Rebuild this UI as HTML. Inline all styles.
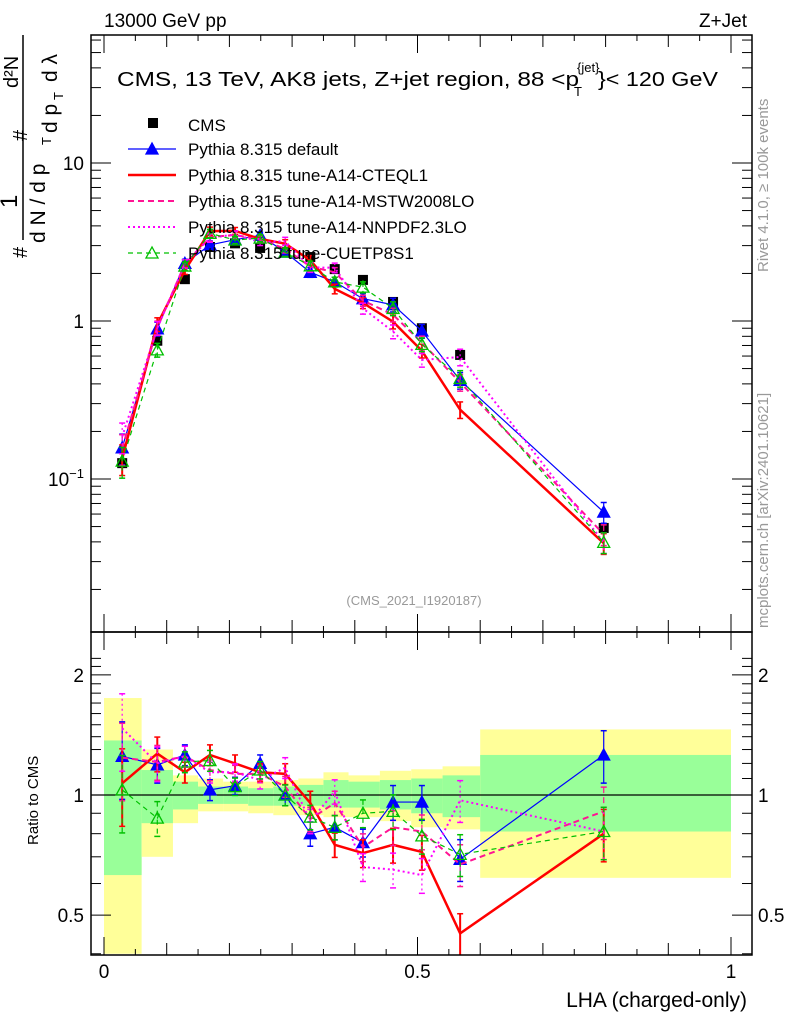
<!DOCTYPE html>
<html><head><meta charset="utf-8"><style>
body{margin:0;background:#fff}
svg{display:block;font-family:"Liberation Sans",sans-serif}
</style></head><body>
<svg id="c" width="786" height="1024" viewBox="0 0 786 1024">
</svg>
<script>
const edges=[0,0.06,0.11,0.15,0.19,0.23,0.27,0.31,0.35,0.39,0.44,0.49,0.54,0.60,1.0];
const xs=[0.029,0.085,0.129,0.169,0.209,0.249,0.289,0.329,0.368,0.413,0.461,0.507,0.568,0.797];
const cms=[0.126,0.75,1.84,2.94,3.1,2.9,2.73,2.54,2.13,1.82,1.32,0.90,0.61,0.049];
const cmsErr=[0.03,0.03,0.03,0.03,0.03,0.03,0.03,0.03,0.04,0.04,0.05,0.05,0.06,0.08];
const rDefault=[1.25,1.19,1.26,1.03,1.055,1.20,1.0,0.80,0.83,0.76,0.96,0.96,0.69,1.26];
const rCteq=[1.07,1.27,1.14,1.26,1.20,1.14,1.13,0.955,0.75,0.715,0.75,0.72,0.45,0.80];
const rMstw=[1.24,1.21,1.25,1.155,1.13,1.13,1.05,0.87,0.955,0.74,0.83,0.81,0.67,0.91];
const rNnpdf=[1.47,1.2,1.25,1.14,1.14,1.09,1.17,0.86,1.02,0.66,0.65,0.63,0.97,0.81];
const rCuetp=[1.03,0.875,1.21,1.22,1.05,1.155,1.0,0.88,0.83,0.90,0.91,0.79,0.71,0.81];
const mcErr=[0.22,0.1,0.06,0.06,0.05,0.05,0.06,0.07,0.07,0.08,0.1,0.1,0.12,0.15];
const yelHi=[1.75,1.30,1.12,1.10,1.08,1.08,1.09,1.10,1.14,1.12,1.15,1.16,1.18,1.46];
const yelLo=[0.40,0.70,0.85,0.91,0.91,0.90,0.89,0.89,0.88,0.88,0.86,0.83,0.82,0.62];
const grnHi=[1.37,1.155,1.08,1.05,1.05,1.04,1.05,1.06,1.09,1.08,1.09,1.10,1.12,1.26];
const grnLo=[0.63,0.85,0.92,0.95,0.95,0.94,0.94,0.94,0.93,0.93,0.92,0.90,0.88,0.81];
const xTicks=[0,0.5,1];
const yTicksMain=[0.1,1,10];
const yTicksRatio=[0.5,1,2];

const S=document.getElementById('c');
const NS='http://www.w3.org/2000/svg';
function mk(tag,at,parent){const e=document.createElementNS(NS,tag);for(const k in at)e.setAttribute(k,at[k]);(parent||S).appendChild(e);return e;}
const L=91,R=752,T=35,MB=632,RB=955;
const X=v=>104+627*v;
const YM=v=>321-158*Math.log10(v);
const YR=v=>795-399*Math.log10(v);

const bands=mk('g',{});


const clipR=mk('clipPath',{id:'cr'});mk('rect',{x:L,y:MB,width:R-L,height:RB-MB},clipR);
const clipM=mk('clipPath',{id:'cm'});mk('rect',{x:L,y:T,width:R-L,height:MB-T},clipM);
bands.setAttribute('clip-path','url(#cr)');
for(let i=0;i<xs.length;i++){
  const x0=X(edges[i]),x1=X(edges[i+1]);
  const y=mk('rect',{x:x0,y:YR(yelHi[i]),width:x1-x0,height:YR(yelLo[i])-YR(yelHi[i]),fill:'#ffff99'},bands);
  
  
  const g=mk('rect',{x:x0,y:YR(grnHi[i]),width:x1-x0,height:YR(grnLo[i])-YR(grnHi[i]),fill:'#99ff99'},bands);
  
  
}
mk('line',{x1:L,x2:R,y1:YR(1),y2:YR(1),stroke:'#000','stroke-width':1.2});

const series=[
 {name:'pythia-default',r:rDefault,col:'#0000ff',w:1.2,dash:'',mark:'tri'},
 {name:'pythia-a14-cteql1',r:rCteq,col:'#ff0000',w:2.5,dash:'',mark:''},
 {name:'pythia-a14-mstw2008lo',r:rMstw,col:'#ff1493',w:2,dash:'6,4',mark:''},
 {name:'pythia-a14-nnpdf23lo',r:rNnpdf,col:'#ff00ff',w:2,dash:'2,3',mark:''},
 {name:'pythia-cuetp8s1',r:rCuetp,col:'#00c000',w:1.2,dash:'5,4',mark:'otri'}];

function tri(g,x,y,col,open){return mk('polygon',{points:`${x},${y-6} ${x-6},${y+5} ${x+6},${y+5}`,fill:open?'none':col,stroke:col,'stroke-width':1.3},g);}

function drawSeries(s,panel){
  const g=mk('g',{'clip-path':panel?'url(#cr)':'url(#cm)'});
  
  
  const Yf=panel?YR:YM;
  const vals=s.r.map((r,i)=>panel?r:r*cms[i]);
  const pts=vals.map((v,i)=>X(xs[i])+','+Yf(v)).join(' ');
  mk('polyline',{points:pts,fill:'none',stroke:s.col,'stroke-width':s.w,'stroke-dasharray':s.dash},g);
  vals.forEach((v,i)=>{
    const x=X(xs[i]),e=mcErr[i];
    mk('line',{x1:x,x2:x,y1:Yf(v*(1+e)),y2:Yf(v*(1-e)),stroke:s.col,'stroke-width':s.w>2?2:1.2,'stroke-dasharray':s.dash},g);
    mk('line',{x1:x-3,x2:x+3,y1:Yf(v*(1+e)),y2:Yf(v*(1+e)),stroke:s.col,'stroke-width':1.5},g);
    mk('line',{x1:x-3,x2:x+3,y1:Yf(v*(1-e)),y2:Yf(v*(1-e)),stroke:s.col,'stroke-width':1.5},g);
    if(s.mark){const m=tri(g,x,Yf(v),s.col,s.mark==='otri');}
  });
}
const cg=mk('g',{});


cms.forEach((v,i)=>{
  const x=X(xs[i]);
  mk('line',{x1:x,x2:x,y1:YM(v*(1+cmsErr[i])),y2:YM(v*(1-cmsErr[i])),stroke:'#000'},cg);
  const r=mk('rect',{x:x-5,y:YM(v)-5,width:10,height:10,fill:'#000'},cg);
  
  
});
series.forEach(s=>{drawSeries(s,false);drawSeries(s,true);});

mk('rect',{x:L,y:T,width:R-L,height:MB-T,fill:'none',stroke:'#000','stroke-width':1.5});
mk('rect',{x:L,y:MB,width:R-L,height:RB-MB,fill:'none',stroke:'#000','stroke-width':1.5});

const ax=mk('g',{stroke:'#000','stroke-width':1});


for(let k=0;k<=20;k++){const v=k*0.05,x=X(v);const len=(k%10===0)?18:(k%2===0?12:6);
  [[MB,-1],[T,1],[RB,-1],[MB,1]].forEach(([y0,d])=>mk('line',{x1:x,x2:x,y1:y0,y2:y0+d*len},ax));}
xTicks.forEach(v=>{const t=mk('text',{x:X(v),y:978,'font-size':19,'text-anchor':'middle'});t.textContent=String(v);
  });
for(let d=-2;d<=1;d++)for(let m=1;m<=9;m++){const v=m*Math.pow(10,d);const y=YM(v);if(y<T||y>MB)continue;
  const len=m===1?20:10;mk('line',{x1:L,x2:L+len,y1:y,y2:y},ax);mk('line',{x1:R,x2:R-len,y1:y,y2:y},ax);}
yTicksMain.forEach(v=>{const t=mk('text',{x:84,y:YM(v)+7,'font-size':19,'text-anchor':'end'});
  if(v===0.1){t.textContent='10';const ts=mk('tspan',{dy:-8,'font-size':13},t);ts.textContent='−1';}else t.textContent=String(v);
  });
for(let k=4;k<=22;k++){const v=k/10;const y=YR(v);if(y<MB||y>RB)continue;const len=(v===0.5||v===1||v===2)?20:10;
  mk('line',{x1:L,x2:L+len,y1:y,y2:y},ax);mk('line',{x1:R,x2:R-len,y1:y,y2:y},ax);}
yTicksRatio.forEach(v=>{[[84,'end'],[758,'start']].forEach(([x,a])=>{const t=mk('text',{x:x,y:YR(v)+7,'font-size':19,'text-anchor':a});t.textContent=String(v);
  });});

function txt(x,y,s,size,name,extra){const t=mk('text',Object.assign({x:x,y:y,'font-size':size},extra||{}));t.textContent=s;return t;}
txt(104,27,'13000 GeV pp',19,'beam-label');
txt(747,27,'Z+Jet',19,'process-label',{'text-anchor':'end'});
txt(117,86,'CMS, 13 TeV, AK8 jets, Z+jet region, 88 <p',20,'plot-title',{textLength:462,lengthAdjust:'spacingAndGlyphs'});
txt(577,72,'{jet}',13,'title-superscript');
txt(574,96,'T',13,'title-subscript');
txt(598,86,'}< 120 GeV',20,'plot-title-end',{textLength:120,lengthAdjust:'spacingAndGlyphs'});
txt(414,605,'(CMS_2021_I1920187)',13,'analysis-id',{fill:'#999','text-anchor':'middle'});
txt(747,1007,'LHA (charged-only)',21,'x-axis-title',{'text-anchor':'end'});
txt(0,0,'Ratio to CMS',15,'ratio-y-title',{transform:'translate(38,845) rotate(-90)'});
txt(0,0,'Rivet 4.1.0, ≥ 100k events',15,'rivet-label',{transform:'translate(768,272) rotate(-90)',fill:'#999'});
txt(0,0,'mcplots.cern.ch [arXiv:2401.10621]',15,'mcplots-label',{transform:'translate(768,628) rotate(-90)',fill:'#999'});

const yt=mk('g',{});
mk('line',{x1:23,x2:23,y1:240,y2:35,stroke:'#000','stroke-width':1.5},yt);
[['#',27,258,20],['1',17,208,24],['d N / d p',45,243,21],['#',27,141,20],['d²N',18,88,20],['d p',57,133,21],['d λ',57,82,21]].forEach(([s,x,y,f])=>{
  const t=mk('text',{transform:`translate(${x},${y}) rotate(-90)`,'font-size':f},yt);t.textContent=s;});
mk('text',{transform:'translate(51,145) rotate(-90)','font-size':13},yt).textContent='T';
mk('text',{transform:'translate(63,100) rotate(-90)','font-size':13},yt).textContent='T';
mk('line',{x1:23,x2:23,y1:130,y2:35,stroke:'#000','stroke-width':1},yt);

const lg=mk('g',{});
const labels=['Pythia 8.315 default','Pythia 8.315 tune-A14-CTEQL1','Pythia 8.315 tune-A14-MSTW2008LO','Pythia 8.315 tune-A14-NNPDF2.3LO','Pythia 8.315 tune-CUETP8S1'];
mk('rect',{x:148,y:118,width:10,height:10,fill:'#000'},lg);
mk('text',{x:188,y:131,'font-size':17},lg).textContent='CMS';
series.forEach((s,i)=>{const y=149+26*i;const e=mk('g',{},lg);
  
  mk('line',{x1:128,x2:176,y1:y,y2:y,stroke:s.col,'stroke-width':s.w,'stroke-dasharray':s.dash},e);
  if(s.mark)tri(e,152,y,s.col,s.mark==='otri');
  mk('text',{x:188,y:y+6,'font-size':17},e).textContent=labels[i];});
</script>
</body></html>
